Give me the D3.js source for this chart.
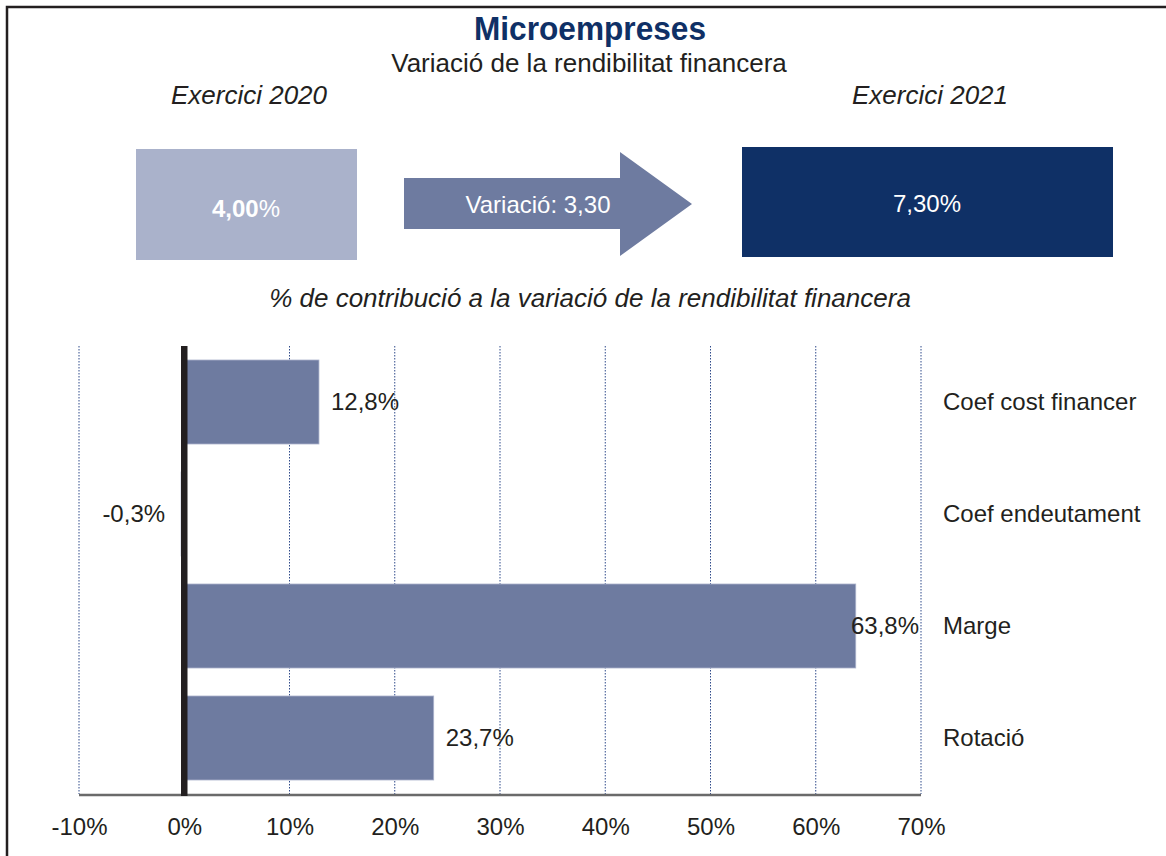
<!DOCTYPE html>
<html>
<head>
<meta charset="utf-8">
<script src="https://cdn.jsdelivr.net/npm/d3@7"></script>
<style>
  body { margin: 0; background: #fff; }
  text { font-family: "Liberation Sans", Arial, sans-serif; }
</style>
</head>
<body>
<div id="chart"></div>
<script>
// Data
const categories = ["Coef cost financer", "Coef endeutament", "Marge", "Rotació"];
const contributions = [12.8, -0.3, 63.8, 23.7];
const tickValues = [-10, 0, 10, 20, 30, 40, 50, 60, 70];
const rend2020 = "4,00";
const rend2021 = "7,30%";
const variacio = "Variació: 3,30";

const width = 1166, height = 856;
const navy = "#0f3066";
const barColor = "#6e7ba0";
const ink = "#231f20";

const svg = d3.select("#chart").append("svg")
  .attr("width", width)
  .attr("height", height);

// outer frame (left + top only visible)
svg.append("path")
  .attr("d", "M7,856 V7 H1166")
  .attr("fill", "none")
  .attr("stroke", ink)
  .attr("stroke-width", 2.5);

// Titles
svg.append("text").attr("x", 590).attr("y", 40).attr("text-anchor", "middle")
  .attr("font-size", 34).attr("font-weight", "bold").attr("fill", navy)
  .attr("textLength", 232).attr("lengthAdjust", "spacingAndGlyphs")
  .text("Microempreses");
svg.append("text").attr("x", 589).attr("y", 72).attr("text-anchor", "middle")
  .attr("font-size", 26).attr("fill", ink)
  .text("Variació de la rendibilitat financera");
svg.append("text").attr("x", 249).attr("y", 104).attr("text-anchor", "middle")
  .attr("font-size", 26).attr("font-style", "italic").attr("fill", ink)
  .text("Exercici 2020");
svg.append("text").attr("x", 930).attr("y", 104).attr("text-anchor", "middle")
  .attr("font-size", 26).attr("font-style", "italic").attr("fill", ink)
  .text("Exercici 2021");

// 2020 box
svg.append("rect").attr("x", 136).attr("y", 149).attr("width", 221).attr("height", 111)
  .attr("fill", "#aab2cb");
const t2020 = svg.append("text").attr("x", 246).attr("y", 217).attr("text-anchor", "middle")
  .attr("font-size", 24).attr("fill", "#fff");
t2020.append("tspan").attr("font-weight", "bold").text(rend2020);
t2020.append("tspan").text("%");

// arrow
svg.append("path")
  .attr("d", "M404,178 H620 V152 L692,204 L620,256 V229 H404 Z")
  .attr("fill", barColor);
svg.append("text").attr("x", 538).attr("y", 213).attr("text-anchor", "middle")
  .attr("font-size", 24).attr("fill", "#fff").text(variacio);

// 2021 box
svg.append("rect").attr("x", 742).attr("y", 147).attr("width", 371).attr("height", 110)
  .attr("fill", navy);
svg.append("text").attr("x", 927).attr("y", 212).attr("text-anchor", "middle")
  .attr("font-size", 24).attr("fill", "#fff").text(rend2021);

svg.append("text").attr("x", 590).attr("y", 307).attr("text-anchor", "middle")
  .attr("font-size", 26).attr("font-style", "italic").attr("fill", ink)
  .text("% de contribució a la variació de la rendibilitat financera");

// Bar chart
const plotTop = 346, plotBottom = 794;
const x = d3.scaleLinear().domain([-10, 70]).range([79, 921]);
const y = d3.scaleBand().domain(categories).range([plotTop, plotBottom]).paddingInner(0.25).paddingOuter(0.125);

// gridlines
svg.append("g").selectAll("line")
  .data(tickValues)
  .join("line")
  .attr("x1", d => x(d)).attr("x2", d => x(d))
  .attr("y1", plotTop).attr("y2", plotBottom)
  .attr("stroke", "#2f4a8a")
  .attr("stroke-width", 1)
  .attr("stroke-dasharray", "1.5,1.5");

// bars
svg.append("g").selectAll("rect")
  .data(contributions)
  .join("rect")
  .attr("x", d => x(Math.min(0, d)))
  .attr("y", (d, i) => y(categories[i]))
  .attr("width", d => Math.abs(x(d) - x(0)))
  .attr("height", y.bandwidth())
  .attr("fill", barColor)
  .attr("stroke", "#aab2cb")
  .attr("stroke-width", 0.8);

// axis line
svg.append("line")
  .attr("x1", x(-10)).attr("x2", x(70))
  .attr("y1", plotBottom + 1).attr("y2", plotBottom + 1)
  .attr("stroke", "#6a6a6a").attr("stroke-width", 2.5);

// zero line
svg.append("line")
  .attr("x1", x(0)).attr("x2", x(0))
  .attr("y1", plotTop).attr("y2", plotBottom + 2)
  .attr("stroke", ink).attr("stroke-width", 6.5);

// axis tick labels
const xAxis = d3.axisBottom(x).tickValues(tickValues).tickSize(0).tickPadding(24)
  .tickFormat(d => d + "%");
svg.append("g")
  .attr("transform", `translate(0,${plotBottom})`)
  .call(xAxis)
  .call(g => g.select(".domain").remove())
  .selectAll("text")
  .attr("font-family", "Liberation Sans, Arial, sans-serif")
  .attr("font-size", 24)
  .attr("fill", ink);

// value labels
const fmt = v => v.toFixed(1).replace(".", ",") + "%";
svg.append("g").selectAll("text")
  .data(contributions)
  .join("text")
  .attr("x", d => d < 0 ? x(d) - 16 : Math.min(x(d) + 12, x(70) - 70))
  .attr("y", (d, i) => y(categories[i]) + y.bandwidth() / 2)
  .attr("dy", "0.35em")
  .attr("text-anchor", d => d < 0 ? "end" : "start")
  .attr("font-size", 24)
  .attr("fill", ink)
  .text(fmt);

// category labels
svg.append("g").selectAll("text")
  .data(categories)
  .join("text")
  .attr("x", 943)
  .attr("y", d => y(d) + y.bandwidth() / 2)
  .attr("dy", "0.35em")
  .attr("font-size", 24)
  .attr("fill", ink)
  .text(d => d);
</script>
</body>
</html>
